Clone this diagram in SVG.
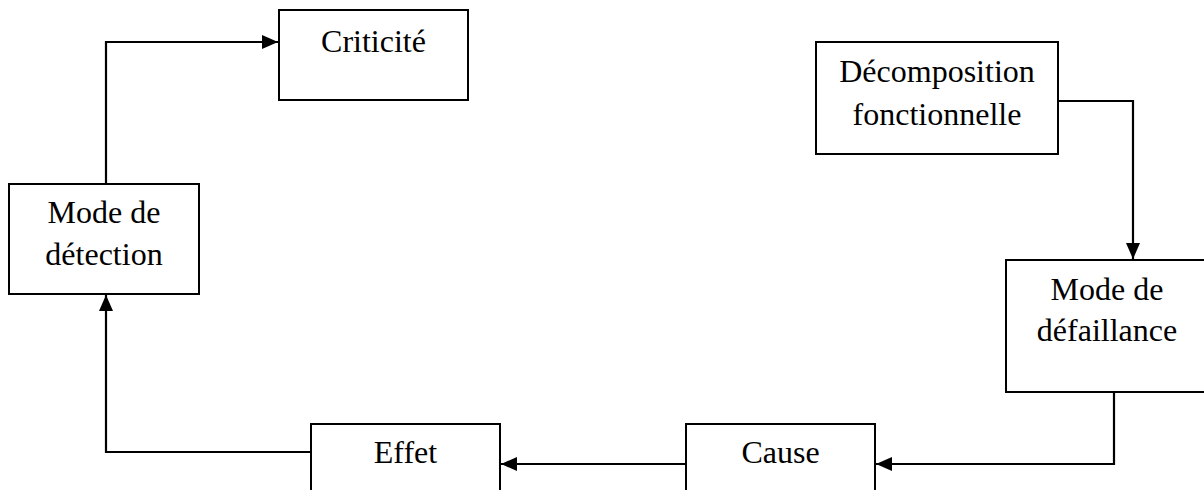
<svg xmlns="http://www.w3.org/2000/svg" width="1204" height="490" viewBox="0 0 1204 490">
<style>
.box{fill:#fff;stroke:#000;stroke-width:2}
.lbl{font-family:"Liberation Serif","Times New Roman",serif;font-size:32px;fill:#000;text-anchor:middle}
.conn{fill:none;stroke:#000;stroke-width:2.2}
</style>
<defs>
<marker id="ah" markerUnits="userSpaceOnUse" markerWidth="16" markerHeight="14" refX="16" refY="7" orient="auto">
<path d="M0,0 L16,7 L0,14 Z" fill="#000"/>
</marker>
</defs>
<rect width="1204" height="490" fill="#fff"/>
<g id="criticite">
<rect class="box" x="279" y="10" width="189" height="90"/>
<text class="lbl" x="373.5" y="52">Criticité</text>
</g>
<g id="decomposition">
<rect class="box" x="816" y="42" width="242" height="112"/>
<text class="lbl" x="937" y="82">Décomposition</text>
<text class="lbl" x="937" y="125">fonctionnelle</text>
</g>
<g id="mode-detection">
<rect class="box" x="9" y="184" width="190" height="110"/>
<text class="lbl" x="104" y="223">Mode de</text>
<text class="lbl" x="104" y="265">détection</text>
</g>
<g id="mode-defaillance">
<rect class="box" x="1006" y="260" width="204" height="132"/>
<text class="lbl" x="1107" y="300">Mode de</text>
<text class="lbl" x="1107" y="341">défaillance</text>
</g>
<g id="effet">
<rect class="box" x="311" y="424" width="189" height="100"/>
<text class="lbl" x="405.5" y="463">Effet</text>
</g>
<g id="cause">
<rect class="box" x="686" y="424" width="189" height="100"/>
<text class="lbl" x="780.5" y="463">Cause</text>
</g>
<g id="connectors">
<polyline class="conn" points="1058,101 1133,101 1133,259" marker-end="url(#ah)"/>
<polyline class="conn" points="1114,392 1114,464 876,464" marker-end="url(#ah)"/>
<line class="conn" x1="686" y1="464" x2="501" y2="464" marker-end="url(#ah)"/>
<polyline class="conn" points="311,452 106,452 106,295" marker-end="url(#ah)"/>
<polyline class="conn" points="106,184 106,42 278,42" marker-end="url(#ah)"/>
</g>
</svg>
